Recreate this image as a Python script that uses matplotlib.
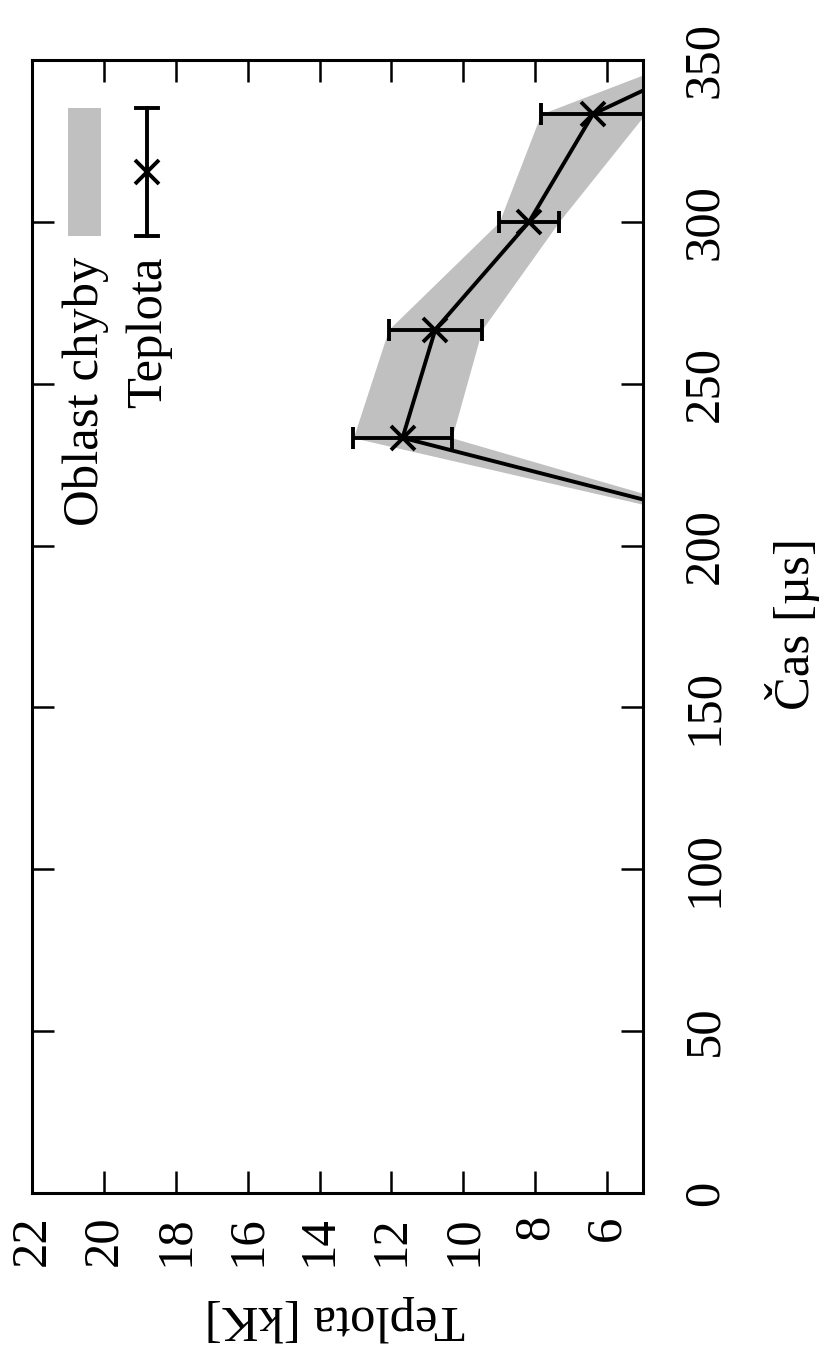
import numpy as np
import matplotlib
matplotlib.use("Agg")
import matplotlib.pyplot as plt

plt.rcParams['font.family'] = ['Liberation Serif', 'DejaVu Serif']

# measured temperature over time (kK), with the error estimate
cas = np.array([200.0, 233.3, 266.7, 300.0, 333.3, 366.7])
teplota = np.array([0.0, 11.69, 10.78, 8.17, 6.39, 0.0])
chyba = np.array([0.0, 1.37, 1.30, 0.83, 1.45, 0.0])

t_ticks = list(range(6, 23, 2))
c_ticks = list(range(0, 351, 50))

fs = 36.5
W, H = 827, 1349
fig = plt.figure(figsize=(W / 100, H / 100), dpi=100)
# page is turned by 90 degrees: time runs upward, temperature to the right
ax = fig.add_axes([32 / W, (H - 1193) / H, (643 - 32) / W, (1193 - 60) / H])

ax.fill_betweenx(cas, teplota - chyba, teplota + chyba, color='#c0c0c0', lw=0, zorder=1)
ax.errorbar(teplota, cas, xerr=chyba, fmt='-x', color='k', lw=2.8, ms=17, mew=2.8,
            elinewidth=2.8, capsize=8, capthick=2.8, zorder=3)

ax.set_xlim(22, 5)
ax.set_ylim(0, 350)
ax.set_xticks(t_ticks)
ax.set_yticks(c_ticks)
ax.set_xticklabels([str(v) for v in t_ticks], rotation=90, fontsize=fs, ha='center', va='top')
ax.set_yticklabels([str(v) for v in c_ticks], rotation=90, fontsize=fs, ha='left', va='center')
ax.tick_params(axis='both', direction='in', length=16, width=1.8,
               top=True, bottom=True, left=True, right=True,
               labelleft=False, labelright=True)
ax.tick_params(axis='x', pad=16)
ax.tick_params(axis='y', pad=28)
for s in ax.spines.values():
    s.set_linewidth(2.2)

# legend, drawn by hand so its text can be turned
tr = ax.transAxes
def fx(px):
    return (px - 32) / 611
def fy(py):
    return (1193 - py) / 1133

ax.add_patch(plt.Rectangle((fx(68), fy(236)), fx(101) - fx(68), fy(108) - fy(236),
                           transform=tr, color='#c0c0c0', lw=0, clip_on=False))
ax.text(fx(86), fy(257), 'Oblast chyby', transform=tr, rotation=90, fontsize=fs,
        ha='center', va='top')
ax.plot([fx(147), fx(147)], [fy(236), fy(108)], transform=tr, color='k', lw=2.8)
for py in (108, 236):
    ax.plot([fx(136), fx(158)], [fy(py), fy(py)], transform=tr, color='k', lw=2.8)
ax.plot([fx(147)], [fy(172)], transform=tr, marker='x', ms=17, mew=2.8, color='k')
ax.text(fx(149), fy(257), 'Teplota', transform=tr, rotation=90, fontsize=fs,
        ha='center', va='top')

fig.text(792 / W, 1 - 624 / H, 'Čas [µs]', rotation=90, fontsize=fs, ha='center', va='center')
fig.text(335 / W, 1 - 1318 / H, 'Teplota [kK]', rotation=180, fontsize=fs, ha='center', va='center')

fig.savefig('out.png', dpi=100)
